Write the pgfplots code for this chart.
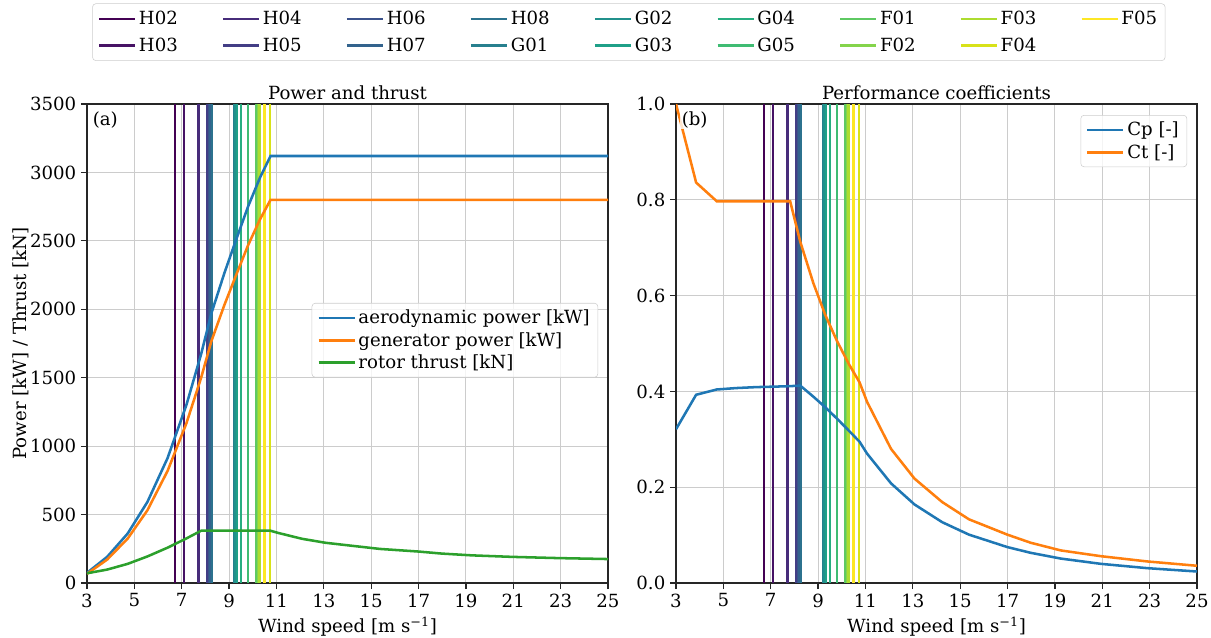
\documentclass[border=0pt]{standalone}
\usepackage{pgfplots}
\pgfplotsset{compat=1.18}
\usepackage{fontspec}
\setmainfont{DejaVu Serif}

\definecolor{C0}{HTML}{1F77B4}
\definecolor{C1}{HTML}{FF7F0E}
\definecolor{C2}{HTML}{2CA02C}
% viridis, 17 steps
\definecolor{H02}{HTML}{440154}
\definecolor{H03}{HTML}{471365}
\definecolor{H04}{HTML}{472C7A}
\definecolor{H05}{HTML}{433E85}
\definecolor{H06}{HTML}{3B528B}
\definecolor{H07}{HTML}{33638D}
\definecolor{H08}{HTML}{2C728E}
\definecolor{G01}{HTML}{27808E}
\definecolor{G02}{HTML}{21918C}
\definecolor{G03}{HTML}{1FA088}
\definecolor{G04}{HTML}{28AE80}
\definecolor{G05}{HTML}{3FBC73}
\definecolor{F01}{HTML}{5EC962}
\definecolor{F02}{HTML}{84D44B}
\definecolor{F03}{HTML}{ADDC30}
\definecolor{F04}{HTML}{D8E219}
\definecolor{F05}{HTML}{FDE725}

\newcommand{\fs}{\fontsize{13.6}{16}\selectfont}

\pgfplotstableread{
x     aero  gen   thrust
3.00   74    67    71
3.85  191   171    98
4.72  362   325   140
5.55  592   531   194
6.40  912   818   258
7.20 1302  1168   326
7.82 1673  1500   382
8.25 1969  1766   382
8.80 2264  2031   382
9.30 2510  2251   382
9.80 2750  2467   382
10.30 2960 2655   382
10.75 3120 2800   382
11.07 3120 2800   366
12.08 3120 2800   323
13.07 3120 2800   294
14.24 3120 2800   271
15.37 3120 2800   249
16.99 3120 2800   230
17.98 3120 2800   215
19.25 3120 2800   202
20.94 3120 2800   191
22.90 3120 2800   182
25.00 3120 2800   175
}\powertab

\pgfplotstableread{
x     cp     ct
3.00  0.321  1.000
3.85  0.393  0.836
4.72  0.404  0.797
5.55  0.407  0.797
6.40  0.409  0.797
7.20  0.410  0.797
7.82  0.411  0.797
8.25  0.412  0.712
8.80  0.389  0.626
9.30  0.367  0.560
9.80  0.343  0.505
10.30 0.318  0.457
10.75 0.295  0.419
11.07 0.270  0.378
12.08 0.208  0.280
13.07 0.164  0.218
14.24 0.127  0.169
15.37 0.101  0.133
16.99 0.075  0.101
17.98 0.063  0.084
19.25 0.051  0.068
20.94 0.040  0.056
22.90 0.031  0.045
25.00 0.024  0.036
}\coeftab

\pgfplotsset{
  panel/.style={
    width=390.75pt, height=359.25pt, scale only axis,
    xmin=3, xmax=25, xtick={3,5,...,25},
    grid=major, major grid style={draw=black!20, line width=0.8pt},
    axis line style={black!85, line width=0.9pt},
    tick pos=left, tick align=outside, major tick length=4.5pt,
    major tick style={black!85, line width=0.9pt},
    tick label style={font=\fs},
    label style={font=\fs},
    every axis title shift=0pt,
    title style={font=\fs, at={(0.5,1)}, anchor=base, yshift=3.5pt, inner sep=0pt},
    /pgf/number format/assume math mode=true,
    /pgf/number format/1000 sep={},
    xlabel={Wind speed [m s\textsuperscript{−1}]},
    legend style={font=\fs, draw=black!20, rounded corners=2.5pt,
      fill=white, fill opacity=0.8, text opacity=1, draw opacity=1,
      inner xsep=4pt, inner ysep=3pt, row sep=1pt},
    legend cell align=left,
    legend image code/.code={\draw[##1] (0pt,0pt) -- (27pt,0pt);},
  },
  curve/.style={line width=1.9pt},
}

\begin{document}
\begin{tikzpicture}
\useasboundingbox (-65.25pt,-40.5pt) rectangle (843pt,437.25pt);

% (a) power and thrust
\begin{axis}[panel, at={(0pt,0pt)}, anchor=south west,
  ymin=0, ymax=3500, ytick={0,500,...,3500},
  title={Power and thrust},
  ylabel={Power [kW] / Thrust [kN]}, ylabel shift=-6pt,
  legend style={at={(0.981,0.5846)}, anchor=north east}]
\foreach \c/\v in {H02/6.72,H03/7.10,H04/7.70,H05/8.09,H06/8.15,H07/8.21,H08/8.27,
  G01/9.21,G02/9.27,G03/9.33,G04/9.50,G05/9.81,F01/10.16,F02/10.24,F03/10.28,F05/10.49,F04/10.73}{
  \edef\temp{\noexpand\addplot[\c, line width=1.8pt, forget plot] coordinates {(\v,0) (\v,3500)};}
  \temp
}
\addplot[C0, curve] table[x=x, y=aero] {\powertab};
\addlegendentry{aerodynamic power [kW]}
\addplot[C1, curve] table[x=x, y=gen] {\powertab};
\addlegendentry{generator power [kW]}
\addplot[C2, curve] table[x=x, y=thrust] {\powertab};
\addlegendentry{rotor thrust [kN]}
\node[font=\fs, anchor=north west, inner sep=1pt, fill=white, fill opacity=0.8, text opacity=1]
  at (rel axis cs:0.008,0.988) {(a)};
\end{axis}

% (b) coefficients
\begin{axis}[panel, at={(441.75pt,0pt)}, anchor=south west,
  ymin=0, ymax=1, ytick={0,0.2,...,1.0},
  yticklabel style={/pgf/number format/fixed, /pgf/number format/fixed zerofill, /pgf/number format/precision=1},
  title={Performance coefficients},
  legend style={at={(0.981,0.977)}, anchor=north east}]
\foreach \c/\v in {H02/6.72,H03/7.10,H04/7.70,H05/8.09,H06/8.15,H07/8.21,H08/8.27,
  G01/9.21,G02/9.27,G03/9.33,G04/9.50,G05/9.81,F01/10.16,F02/10.24,F03/10.28,F05/10.49,F04/10.73}{
  \edef\temp{\noexpand\addplot[\c, line width=1.8pt, forget plot] coordinates {(\v,0) (\v,1)};}
  \temp
}
\addplot[C0, curve] table[x=x, y=cp] {\coeftab};
\addlegendentry{Cp [-]}
\addplot[C1, curve] table[x=x, y=ct] {\coeftab};
\addlegendentry{Ct [-]}
\node[font=\fs, anchor=north west, inner sep=1pt, fill=white, fill opacity=0.8, text opacity=1]
  at (rel axis cs:0.008,0.988) {(b)};
\end{axis}

% shared legend of the sites
\begin{axis}[at={(0pt,0pt)}, anchor=south west, width=390.75pt, height=359.25pt,
  scale only axis, hide axis, xmin=0, xmax=1, ymin=0, ymax=1,
  legend columns=9, legend cell align=left,
  legend image code/.code={\draw[#1] (0pt,0pt) -- (27pt,0pt);},
  legend style={at={(1.040,1.150)}, anchor=center, font=\fs,
    draw=black!20, rounded corners=2.5pt, fill=white,
    inner xsep=4pt, inner ysep=3.5pt, row sep=4.5pt,
    /tikz/every even column/.append style={column sep=31pt}}]
\foreach \c in {H02,H04,H06,H08,G02,G04,F01,F03,F05,H03,H05,H07,G01,G03,G05,F02,F04}{
  \edef\temp{\noexpand\addlegendimage{\c, line width=1.8pt}\noexpand\addlegendentry{\c}}
  \temp
}
\end{axis}
\end{tikzpicture}
\end{document}
